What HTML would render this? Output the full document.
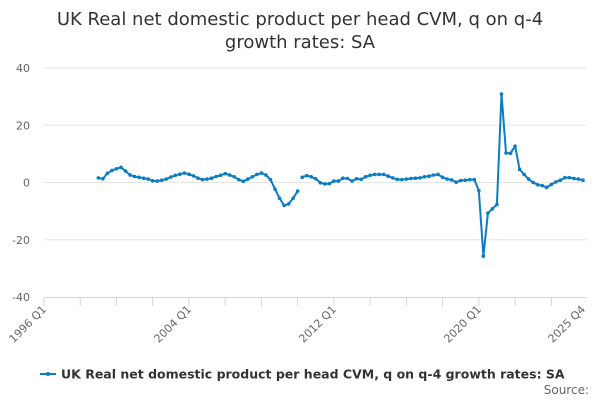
<!DOCTYPE html>
<html><head><meta charset="utf-8"><style>
body{margin:0;background:#fff;width:600px;height:400px;overflow:hidden;font-family:"Liberation Sans","DejaVu Sans",sans-serif}
</style></head><body>
<svg id="chart" width="600" height="400" xmlns="http://www.w3.org/2000/svg" font-family="'DejaVu Sans','Liberation Sans',sans-serif">
<text x="300" y="25" text-anchor="middle" font-size="18" fill="#333">UK Real net domestic product per head CVM, q on q-4</text>
<text x="300" y="48" text-anchor="middle" font-size="18" fill="#333">growth rates: SA</text>
<g id="grid"></g><g id="axes"></g><g id="series"></g>
<g>
<line x1="40" y1="374" x2="56" y2="374" stroke="#0b7dc1" stroke-width="2"/>
<circle cx="48" cy="374" r="2" fill="#0b7dc1"/>
<text x="61" y="378.5" font-size="12.5" font-weight="bold" fill="#333">UK Real net domestic product per head CVM, q on q-4 growth rates: SA</text>
</g>
<text x="589" y="394" text-anchor="end" font-size="12" fill="#666">Source:</text>
</svg>
<script>
const startYear = 1996;
const nQuarters = 120;
const yTicks = [40, 20, 0, -20, -40];
const xLabels = ["1996 Q1", "2004 Q1", "2012 Q1", "2020 Q1", "2025 Q4"];
const xLabelIdx = [0, 32, 64, 96, 119];
const seg1Start = 12;
const seg1 = [1.6,1.3,3.2,4.2,4.8,5.3,4.0,2.6,2.1,1.8,1.5,1.2,0.6,0.5,0.8,1.2,1.9,2.5,2.9,3.3,2.9,2.3,1.5,1.0,1.2,1.5,2.1,2.5,3.1,2.6,2.0,1.0,0.4,1.2,2.0,2.8,3.3,2.6,1.0,-2.3,-5.5,-8.0,-7.5,-5.5,-3.0];
const seg2Start = 57;
const seg2 = [1.8,2.4,2.0,1.3,-0.1,-0.5,-0.4,0.5,0.5,1.5,1.4,0.5,1.3,1.1,2.0,2.5,2.8,2.8,2.8,2.2,1.6,1.1,1.0,1.2,1.4,1.5,1.6,2.0,2.2,2.6,2.8,1.8,1.2,0.9,0.1,0.7,0.8,1.0,1.0,-2.8,-25.7,-10.7,-9.2,-7.7,30.9,10.3,10.2,12.7,4.6,2.8,1.2,0.0,-0.8,-1.1,-1.7,-0.7,0.2,0.8,1.7,1.7,1.4,1.2,0.8];
const segStarts = [seg1Start, seg2Start];
const segments = [seg1, seg2];

const NS="http://www.w3.org/2000/svg";
const x0=44, x1=583, yTop=68, yBot=297;
const xs=i=>x0+i*(x1-x0)/(nQuarters-1);
const ys=v=>yTop+(40-v)*(yBot-yTop)/80;
function mk(t,a,p){const e=document.createElementNS(NS,t);for(const k in a)e.setAttribute(k,a[k]);p.appendChild(e);return e;}
const grid=document.getElementById('grid'),axes=document.getElementById('axes'),ser=document.getElementById('series');
yTicks.forEach(v=>{
 if(v>-40){const g=mk('line',{x1:x0,x2:587,y1:ys(v),y2:ys(v),stroke:'#e6e6e6','stroke-width':1},grid);
 
 }
 const t=mk('text',{x:30,y:ys(v)+4,'text-anchor':'end','font-size':11,fill:'#666'},axes);
 
 
 t.textContent=v;
});
const ax=mk('line',{x1:x0,x2:587,y1:yBot+0.5,y2:yBot+0.5,stroke:'#ccd6eb','stroke-width':1},axes);


for(let i=0;i<nQuarters;i+=8){const tk=mk('line',{x1:xs(i),x2:xs(i),y1:yBot,y2:yBot+9,stroke:'#ccd6eb'},axes);
 
 }
xLabels.forEach((l,k)=>{const x=xs(xLabelIdx[k]);
 const t=mk('text',{x:x+3,y:yBot+13,'text-anchor':'end','font-size':11,fill:'#666',transform:`rotate(-45 ${x+3} ${yBot+13})`},axes);
 
 
 t.textContent=l;});
segments.forEach((s,k)=>{
 const pts=s.map((v,j)=>xs(segStarts[k]+j).toFixed(1)+','+ys(v).toFixed(1)).join(' ');
 const pl=mk('polyline',{points:pts,fill:'none',stroke:'#0b7dc1','stroke-width':2,'stroke-linejoin':'round'},ser);
 
 
 s.forEach((v,j)=>{const c=mk('circle',{cx:xs(segStarts[k]+j),cy:ys(v),r:1.8,fill:'#0b7dc1'},ser);
  
  });
});
</script>
</body></html>
